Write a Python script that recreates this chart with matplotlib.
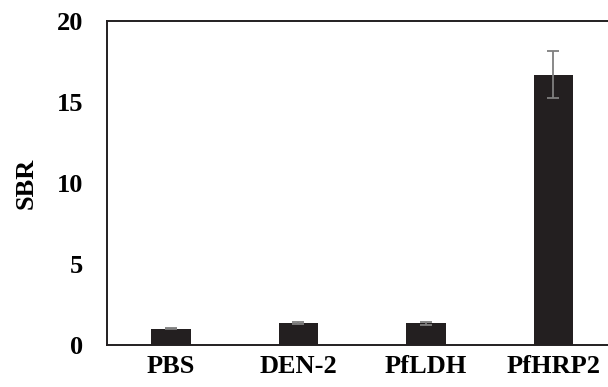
import matplotlib
matplotlib.use("Agg")
import matplotlib.pyplot as plt
import numpy as np

categories = ['PBS', 'DEN-2', 'PfLDH', 'PfHRP2']
sbr = [1.0, 1.35, 1.35, 16.7]
sbr_err = [0.04, 0.05, 0.1, 1.45]
y_ticks = [0, 5, 10, 15, 20]

plt.rcParams['font.family'] = 'Liberation Serif'
plt.rcParams['font.weight'] = 'bold'

fig = plt.figure(figsize=(6.08, 3.87), dpi=100)
ax = fig.add_axes([0.176, 0.1085, 1.015 - 0.176, 0.837])

x = np.arange(len(categories))
ax.bar(x, sbr, width=0.31, color='#231f20', zorder=2)
ax.errorbar(x, sbr, yerr=sbr_err, fmt='none', ecolor='#7f7f7f',
            elinewidth=1.3, capsize=4.3, capthick=1.3, zorder=3)

ax.set_xlim(-0.5, 3.5)
ax.set_ylim(0, 20)
ax.set_yticks(y_ticks)
ax.set_xticks(x)
ax.set_xticklabels(categories)
ax.tick_params(axis='both', length=0, labelsize=19)
ax.tick_params(axis='y', pad=17)
ax.tick_params(axis='x', pad=7)
for lab in ax.get_xticklabels() + ax.get_yticklabels():
    lab.set_fontweight('bold')

ax.set_ylabel('SBR', fontsize=19, fontweight='bold', labelpad=14)

for s in ['left', 'bottom', 'top']:
    ax.spines[s].set_linewidth(1.4)
    ax.spines[s].set_color('#231f20')
ax.spines['right'].set_visible(False)

fig.savefig('out.png', dpi=100)
